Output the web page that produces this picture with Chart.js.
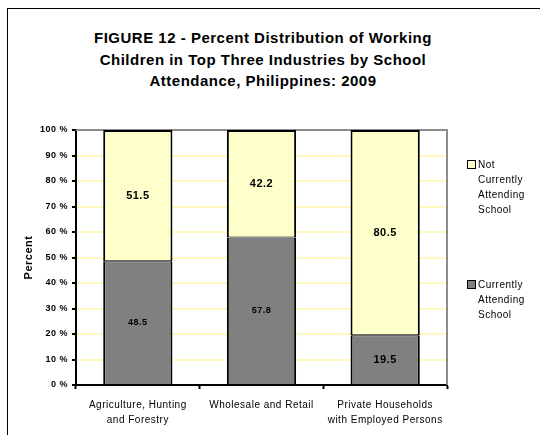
<!DOCTYPE html>
<html>
<head>
<meta charset="utf-8">
<script src="https://cdn.jsdelivr.net/npm/chart.js@4"></script>
<style>
  body { margin: 0; background: #fff; font-family: "Liberation Sans", Arial, sans-serif; }
  #wrap { position: relative; width: 540px; height: 435px; overflow: hidden; }
  #frame { position: absolute; left: 7px; top: 8px; width: 600px; height: 500px; border: 1px solid #000; }
  #title { position: absolute; left: 43px; width: 440px; top: 27px; text-align: center;
    font-weight: bold; font-size: 15px; letter-spacing: 0.5px; line-height: 21.5px; color: #000; }
  .leg { position: absolute; left: 478px; font-size: 10px; line-height: 15px; letter-spacing: 0.5px; color: #000; }
  .leg .sq { position: absolute; left: -11px; top: 3px; width: 7px; height: 7px; border: 1.5px solid #000; }
  canvas { position: absolute; left: 0; top: 0; }
</style>
</head>
<body>
<div id="wrap">
  <div id="frame"></div>
  <div id="title"></div>
  <canvas id="myChart" width="540" height="435"></canvas>
  <div class="leg" id="leg1" style="top:157px"></div>
  <div class="leg" id="leg2" style="top:277px"></div>
</div>
<script>
// chart data
var titleLines = ["FIGURE 12 - Percent Distribution of Working",
  "Children in Top Three Industries by School",
  "Attendance, Philippines: 2009"];
var industries = [["Agriculture, Hunting", "and Forestry"],
  "Wholesale and Retail",
  ["Private Households", "with Employed Persons"]];
var currentlyAttending = [48.5, 57.8, 19.5];
var notAttending = [51.5, 42.2, 80.5];
var seriesNames = ["Currently Attending School", "Not Currently Attending School"];
var yTicks = [0, 10, 20, 30, 40, 50, 60, 70, 80, 90, 100];

document.getElementById("title").innerHTML = titleLines.join("<br>");

// legend, top entry is the upper stack
function legendItem(id, name, color) {
  var words = name.split(" ");
  var el = document.getElementById(id);
  el.innerHTML = '<span class="sq" style="background:' + color + '"></span>' + words.join("<br>");
}
legendItem("leg1", seriesNames[1], "#ffffcc");
legendItem("leg2", seriesNames[0], "#808080");

// label sizes per segment (gray, yellow)
var labelSize = [[9, 9, 11], [11, 11, 11]];

var spacing = {
  id: "spacing",
  beforeDraw: function(chart) { chart.ctx.letterSpacing = "0.5px"; }
};

var valueLabels = {
  id: "valueLabels",
  afterDatasetsDraw: function(chart) {
    var ctx = chart.ctx;
    chart.data.datasets.forEach(function(ds, d) {
      var meta = chart.getDatasetMeta(d);
      meta.data.forEach(function(bar, i) {
        ctx.save();
        ctx.font = "bold " + labelSize[d][i] + "px 'Liberation Sans', Arial";
        ctx.fillStyle = "#000";
        ctx.textAlign = "center";
        ctx.textBaseline = "middle";
        ctx.fillText(ds.data[i].toFixed(1), bar.x, (bar.y + bar.base) / 2);
        ctx.restore();
      });
    });
  }
};

var plotBorder = {
  id: "plotBorder",
  beforeDatasetsDraw: function(chart) {
    var a = chart.chartArea, ctx = chart.ctx;
    ctx.save();
    ctx.strokeStyle = "#8c8c8c";
    ctx.lineWidth = 2;
    ctx.beginPath();
    ctx.moveTo(a.left, a.top);
    ctx.lineTo(a.right, a.top);
    ctx.lineTo(a.right, a.bottom);
    ctx.stroke();
    ctx.restore();
  }
};

var ctx = document.getElementById("myChart");
var chart = new Chart(ctx, {
  type: "bar",
  data: {
    labels: industries,
    datasets: [
      {
        label: seriesNames[0],
        data: currentlyAttending,
        backgroundColor: "#808080",
        borderColor: "#000",
        borderWidth: { top: 1, left: 2, right: 2, bottom: 0 },
        borderSkipped: false
      },
      {
        label: seriesNames[1],
        data: notAttending,
        backgroundColor: "#ffffcc",
        borderColor: "#000",
        borderWidth: { top: 2, left: 2, right: 2, bottom: 1 },
        borderSkipped: false
      }
    ]
  },
  options: {
    responsive: false,
    animation: false,
    layout: { padding: { top: 130, right: 93, left: 0, bottom: 0 } },
    datasets: { bar: { categoryPercentage: 1, barPercentage: 0.56 } },
    plugins: { legend: { display: false }, title: { display: false }, tooltip: { enabled: false } },
    scales: {
      x: {
        stacked: true,
        afterFit: function(s) { s.height = 50; },
        border: { color: "#000", width: 2 },
        grid: { offset: true, drawOnChartArea: false, drawTicks: true, tickLength: 4, tickColor: "#000", tickWidth: 2 },
        ticks: { color: "#000", padding: 9, maxRotation: 0, autoSkip: false,
          font: { family: "'Liberation Sans', Arial", size: 10, lineHeight: 1.5 } }
      },
      y: {
        stacked: true,
        min: 0,
        max: 100,
        afterFit: function(s) { s.width = 76; },
        afterBuildTicks: function(s) { s.ticks = yTicks.map(function(v) { return { value: v }; }); },
        border: { color: "#000", width: 2 },
        grid: {
          color: function(c) { return c.tick && c.tick.value == 100 ? "#8c8c8c" : "#fff8c0"; },
          lineWidth: 2,
          tickColor: "#000",
          tickLength: 4,
          tickWidth: 2
        },
        ticks: { color: "#000", padding: 4,
          font: { family: "'Liberation Sans', Arial", size: 9, weight: "bold" },
          callback: function(v) { return v + " %"; } },
        title: { display: true, text: "Percent", color: "#000", padding: { top: 22, bottom: 0 },
          font: { family: "'Liberation Sans', Arial", size: 11, weight: "bold" } }
      }
    }
  },
  plugins: [spacing, plotBorder, valueLabels]
});
</script>
</body>
</html>
